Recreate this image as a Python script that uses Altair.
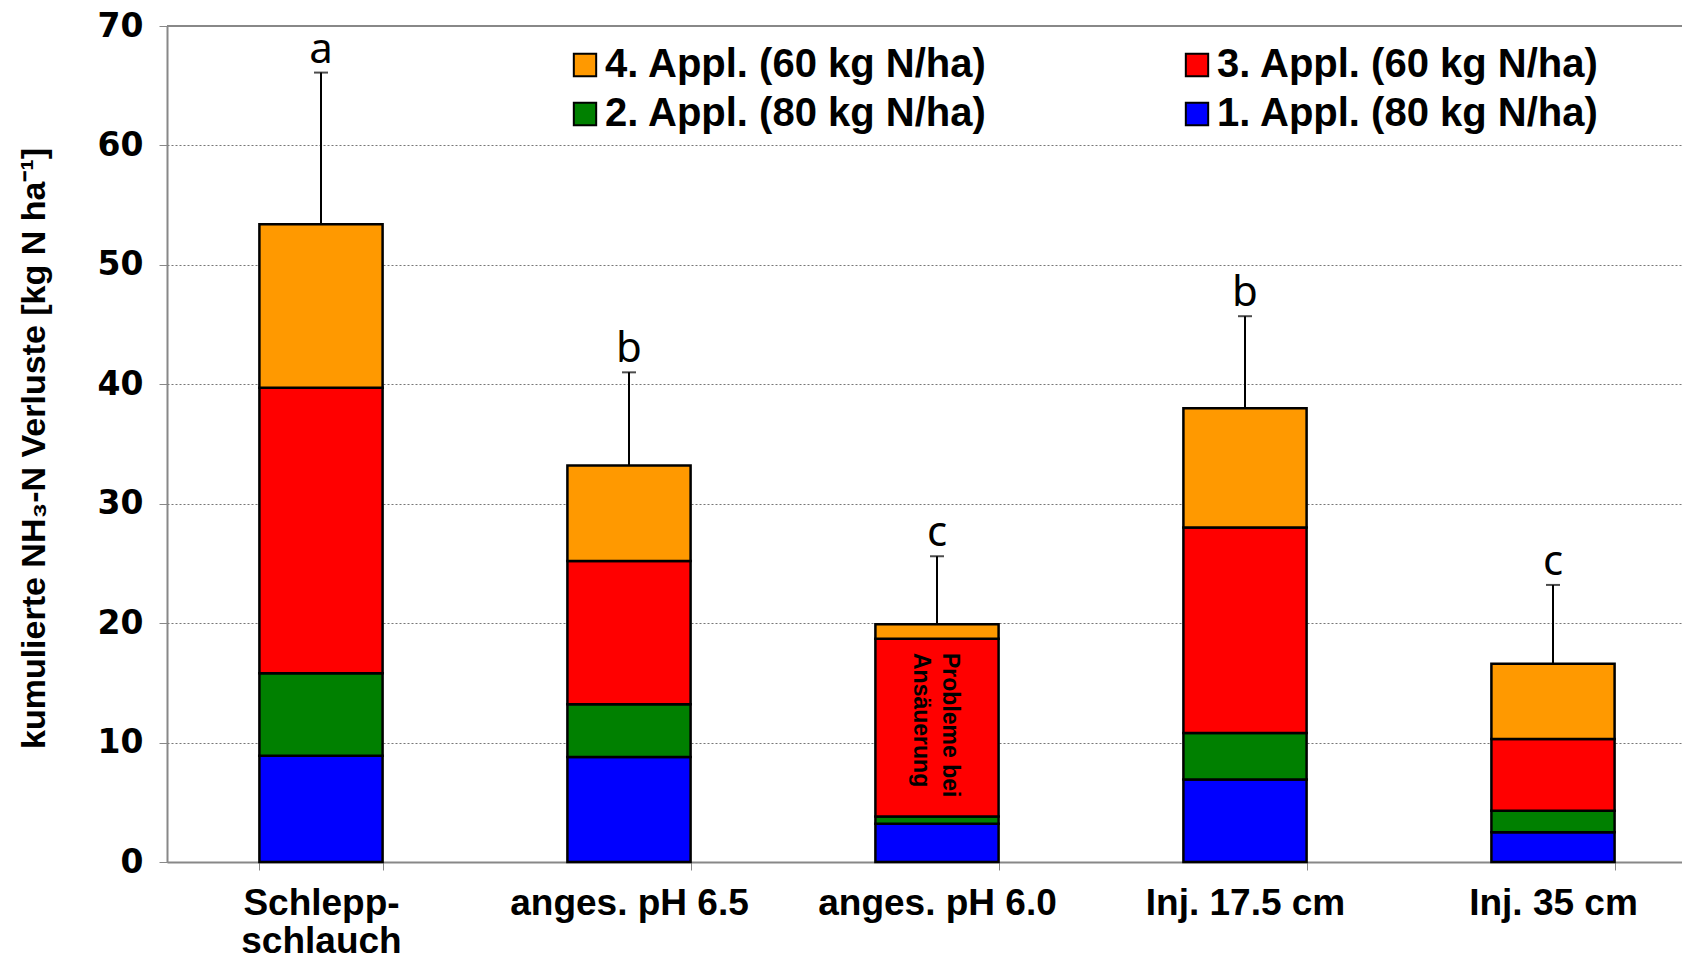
import altair as alt
import pandas as pd

categories = ["Schlepp-schlauch", "anges. pH 6.5", "anges. pH 6.0", "Inj. 17.5 cm", "Inj. 35 cm"]
appl1 = [8.9, 8.8, 3.2, 6.9, 2.5]
appl2 = [6.9, 4.4, 0.6, 3.9, 1.8]
appl3 = [23.9, 12.0, 14.9, 17.2, 6.0]
appl4 = [13.7, 8.0, 1.2, 10.0, 6.3]
errors = [12.7, 7.8, 5.7, 7.7, 6.6]
letters = ["a", "b", "c", "b", "c"]

series_names = ["1. Appl. (80 kg N/ha)", "2. Appl. (80 kg N/ha)",
                "3. Appl. (60 kg N/ha)", "4. Appl. (60 kg N/ha)"]
series_colors = ["#0000FF", "#008000", "#FF0000", "#FF9900"]
# legend grid is filled column by column: 4 / 2 in column 1, 3 / 1 in column 2
legend_order = [series_names[3], series_names[1], series_names[2], series_names[0]]
legend_colors = [series_colors[3], series_colors[1], series_colors[2], series_colors[0]]

note_cat = "anges. pH 6.0"
note_y = 17.5
note_text = "Probleme bei\nAnsäuerung"

rows = []
for i, c in enumerate(categories):
    for k, vals in enumerate([appl1, appl2, appl3, appl4]):
        rows.append({"cat": c, "series": series_names[k], "idx": k, "value": vals[i]})
df = pd.DataFrame(rows)

tot = [appl1[i] + appl2[i] + appl3[i] + appl4[i] for i in range(len(categories))]
df_err = pd.DataFrame({"cat": categories, "total": tot,
                       "top": [tot[i] + errors[i] for i in range(len(categories))],
                       "letter": letters})
df_note = pd.DataFrame({"cat": [note_cat], "y": [note_y], "text": [note_text]})

FONT = "Liberation Sans"

xscale = alt.Scale(domain=categories, range=[0, 1540], paddingInner=0.6, paddingOuter=0.3)
yscale = alt.Scale(domain=[0, 70], nice=False)

xaxis = alt.Axis(
    title=None, tickBand="extent", labelAngle=0, labelFont=FONT, labelFontSize=37,
    labelFontWeight="bold", labelColor="black", labelPadding=15, tickSize=8,
    tickColor="#888888", domainColor="#888888", domainWidth=2, grid=False,
    labelLimit=500,
    labelExpr="datum.label == 'Schlepp-schlauch' ? ['Schlepp-', 'schlauch'] : datum.label",
    labelLineHeight=38, labelBaseline="top",
)
yaxis = alt.Axis(
    values=list(range(0, 71, 10)), grid=True, gridDash=[2, 2], gridColor="#777777",
    domainColor="#888888", domainWidth=2, tickColor="#888888", tickSize=8,
    labelFont="DejaVu Sans", labelFontWeight="bold", labelFontSize=33, labelPadding=16,
    labelColor="black",
    title="kumulierte NH₃-N Verluste [kg N ha⁻¹]", titleFont=FONT, titleFontSize=34,
    titleFontWeight="bold", titleColor="black", titleAngle=-90, titleX=-133, titleY=422,
    titleAlign="center", titleBaseline="middle",
)

bars = alt.Chart(df).mark_bar(stroke="black", strokeWidth=2.5).encode(
    x=alt.X("cat:N", sort=categories, scale=xscale, axis=xaxis),
    y=alt.Y("value:Q", stack="zero", scale=yscale, axis=yaxis),
    color=alt.Color("series:N", scale=alt.Scale(domain=legend_order, range=legend_colors),
                    legend=alt.Legend(title=None, orient="none", legendX=398, legendY=19,
                                      columns=2, columnPadding=189, rowPadding=9,
                                      symbolType="square", symbolSize=500,
                                      symbolStrokeColor="black", symbolStrokeWidth=2,
                                      labelFont=FONT, labelFontSize=40, labelFontWeight="bold",
                                      labelColor="black", labelOffset=0, labelLimit=600)),
    order=alt.Order("idx:Q", sort="ascending"),
)

err_rule = alt.Chart(df_err).mark_rule(color="black", strokeWidth=2).encode(
    x=alt.X("cat:N", sort=categories, scale=xscale),
    y=alt.Y("total:Q", scale=yscale),
    y2="top:Q",
)
err_cap = alt.Chart(df_err).mark_tick(color="black", thickness=2, size=14).encode(
    x=alt.X("cat:N", sort=categories, scale=xscale),
    y=alt.Y("top:Q", scale=yscale),
)
letter_text = alt.Chart(df_err).mark_text(font="Noto Sans", fontSize=42, baseline="alphabetic",
                                          dy=-10, color="black").encode(
    x=alt.X("cat:N", sort=categories, scale=xscale),
    y=alt.Y("top:Q", scale=yscale),
    text="letter:N",
)
note = alt.Chart(df_note).mark_text(angle=90, align="left", baseline="middle", font=FONT,
                                    fontSize=23, fontWeight="bold", lineBreak="\n",
                                    lineHeight=29, dy=-13, color="black").encode(
    x=alt.X("cat:N", sort=categories, scale=xscale),
    y=alt.Y("y:Q", scale=yscale),
    text="text:N",
)
top_rule = alt.Chart(df_err).mark_rule(color="#888888", strokeWidth=2).encode(
    y=alt.datum(70),
)

chart = alt.layer(bars, err_rule, err_cap, letter_text, note, top_rule).properties(
    width=1515, height=836,
    autosize=alt.AutoSizeParams(type="none"),
    padding={"left": 159, "top": 18, "right": 0, "bottom": 93},
).configure_view(stroke=None)

chart.save("out.html", embed_options={"renderer": "svg", "actions": False})
